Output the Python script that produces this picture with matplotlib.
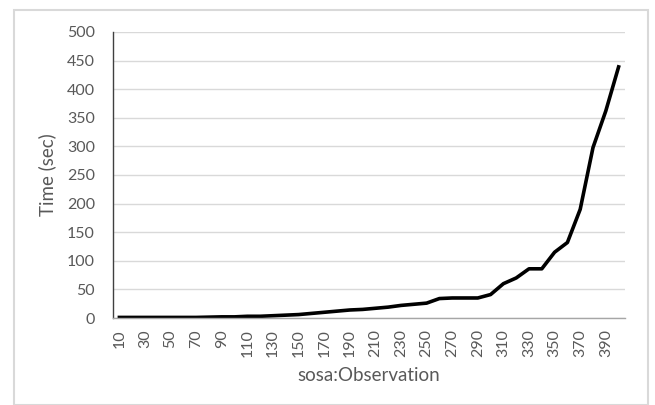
import matplotlib
matplotlib.use("Agg")
import matplotlib.pyplot as plt
from matplotlib.patches import Rectangle

categories = list(range(10, 410, 10))
times = [1, 1, 1, 1, 1, 1, 1, 1.5, 2, 2,
         3, 3, 4, 5, 6, 8, 10, 12, 14, 15,
         17, 19, 22, 24, 26, 34, 35, 35, 35, 41,
         60, 70, 86, 86, 115, 132, 190, 298, 362, 439]
y_ticks = [0, 50, 100, 150, 200, 250, 300, 350, 400, 450, 500]

plt.rcParams['font.family'] = ['Lato', 'DejaVu Sans']

fig = plt.figure(figsize=(6.55, 4.05), dpi=100)
W, H = 655, 405
fig.patches.append(Rectangle((13.5 / W, 0), (648 - 13.5) / W, (395.5) / H,
                             transform=fig.transFigure, fill=False,
                             edgecolor='#d9d9d9', linewidth=1.5))

ax = fig.add_axes([113 / W, (H - 318) / H, (625 - 113) / W, (318 - 32) / H])
x = list(range(len(categories)))
ax.plot(x, times, color='black', linewidth=2.6, solid_joinstyle='round')

ax.set_xlim(-0.5, len(categories) - 0.5)
ax.set_ylim(0, 500)
ax.set_yticks(y_ticks)
ax.set_yticklabels([str(v) for v in y_ticks], fontsize=11.5, color='#595959')
ax.set_xticks(x[::2])
ax.set_xticklabels([str(c) for c in categories[::2]], rotation=90,
                   fontsize=11.5, color='#595959')
ax.tick_params(axis='x', length=0, pad=8)
ax.tick_params(axis='y', length=0, pad=13)
ax.grid(axis='y', color='#d9d9d9', linewidth=1)
ax.set_axisbelow(True)
for s in ['top', 'right']:
    ax.spines[s].set_visible(False)
ax.spines['left'].set_color('#404040')
ax.spines['left'].set_linewidth(1)
ax.spines['bottom'].set_color('#a6a6a6')
ax.spines['bottom'].set_linewidth(1)

ax.set_ylabel('Time (sec)', fontsize=13.5, color='#595959', labelpad=8)
ax.set_xlabel('sosa:Observation', fontsize=13.5, color='#595959', labelpad=7)

fig.savefig('out.png', dpi=100, facecolor='white')
